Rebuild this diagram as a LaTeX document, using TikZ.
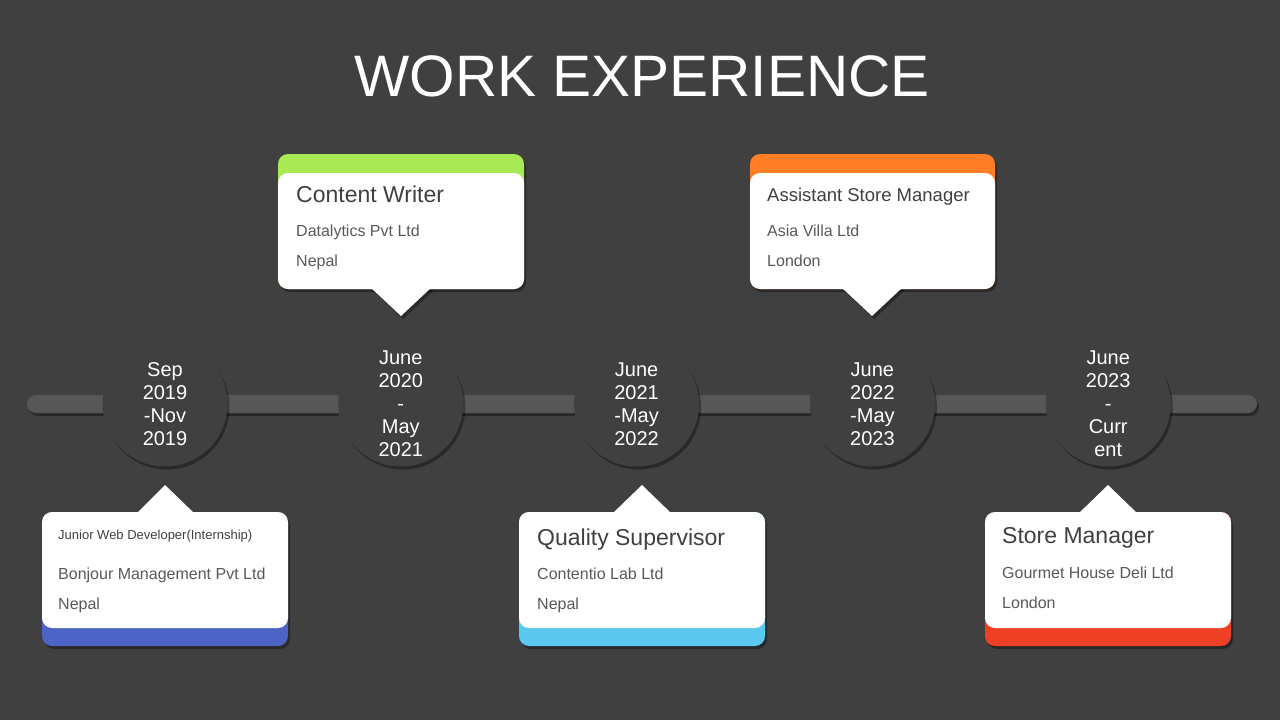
\documentclass[tikz,border=0pt]{standalone}
\usepackage{fontspec}
\setmainfont{Liberation Sans}
\usetikzlibrary{shadows}
\definecolor{bgcol}{HTML}{404040}
\definecolor{barcol}{HTML}{575757}
\definecolor{titlecol}{HTML}{404040}
\definecolor{subcol}{HTML}{595959}
\definecolor{cardgreen}{HTML}{A9EA54}
\definecolor{cardorange}{HTML}{FF7F27}
\definecolor{cardblue}{HTML}{4E63C6}
\definecolor{cardsky}{HTML}{5BC8F0}
\definecolor{cardred}{HTML}{EE4024}
\begin{document}
\begin{tikzpicture}[
	x=1pt,y=-1pt,
	shade/.style={drop shadow={shadow xshift=2pt,shadow yshift=-3pt,fill=black,opacity=0.35}},
	date/.style={circle,fill=bgcol,shade,minimum size=125pt,inner sep=0pt,text=white,align=center,font=\fontsize{20}{23}\selectfont},
	jobtitle/.style={anchor=base west,inner sep=0pt,text=titlecol,font=\fontsize{23}{27}\selectfont},
	jobline/.style={anchor=base west,inner sep=0pt,text=subcol,font=\fontsize{16}{19}\selectfont}
	]
	\def\dist{235.8}
	\useasboundingbox[fill=bgcol] (0,0) rectangle (1280,720);
	\node[anchor=base,text=white,font=\fontsize{58.5}{70}\selectfont] (title) at (642,96) {WORK EXPERIENCE};
	
	% timeline bar
	\fill[barcol,rounded corners=9pt,shade] (27,395) rectangle (1257,413);
	
	\node[date] (d1) at (165,404) {Sep\\2019\\-Nov\\2019};
	\node[date] (d2) at (165+\dist,404) {June\\2020\\-\\May\\2021};
	\node[date] (d3) at (165+2*\dist,404) {June\\2021\\-May\\2022};
	\node[date] (d4) at (165+3*\dist,404) {June\\2022\\-May\\2023};
	\node[date] (d5) at (165+4*\dist,404) {June\\2023\\-\\Curr\\ent};
	
	% top cards
	\fill[cardgreen,rounded corners=10pt,shade] (278,154) rectangle (524,289);
	\fill[white,shade] (370,287) -- (432,287) -- (401,316) -- cycle;
	\fill[white,rounded corners=10pt] (278,173) rectangle (524,289);
	\node[jobtitle] (t2) at (296,202) {Content Writer};
	\node[jobline] (c2) at (296,236) {Datalytics Pvt Ltd};
	\node[jobline] (p2) at (296,266) {Nepal};
	
	\fill[cardorange,rounded corners=10pt,shade] (750,154) rectangle (995,289);
	\fill[white,shade] (841,287) -- (903,287) -- (872,316) -- cycle;
	\fill[white,rounded corners=10pt] (750,173) rectangle (995,289);
	\node[jobtitle,font=\fontsize{18.5}{22}\selectfont] (t4) at (767,201) {Assistant Store Manager};
	\node[jobline] (c4) at (767,236) {Asia Villa Ltd};
	\node[jobline] (p4) at (767,266) {London};
	
	% bottom cards
	\fill[cardblue,rounded corners=10pt,shade] (42,512) rectangle (288,646);
	\fill[white] (136,514) -- (195,514) -- (165,485) -- cycle;
	\fill[white,rounded corners=10pt] (42,512) rectangle (288,628);
	\node[jobtitle,font=\fontsize{13}{15}\selectfont] (t1) at (58,539) {Junior Web Developer(Internship)};
	\node[jobline] (c1) at (58,579) {Bonjour Management Pvt Ltd};
	\node[jobline] (p1) at (58,609) {Nepal};
	
	\fill[cardsky,rounded corners=10pt,shade] (519,512) rectangle (765,646);
	\fill[white] (612,514) -- (672,514) -- (642,485) -- cycle;
	\fill[white,rounded corners=10pt] (519,512) rectangle (765,628);
	\node[jobtitle] (t3) at (537,545) {Quality Supervisor};
	\node[jobline] (c3) at (537,579) {Contentio Lab Ltd};
	\node[jobline] (p3) at (537,609) {Nepal};
	
	\fill[cardred,rounded corners=10pt,shade] (985,512) rectangle (1231,646);
	\fill[white] (1078,514) -- (1138,514) -- (1108,485) -- cycle;
	\fill[white,rounded corners=10pt] (985,512) rectangle (1231,628);
	\node[jobtitle] (t5) at (1002,543) {Store Manager};
	\node[jobline] (c5) at (1002,578) {Gourmet House Deli Ltd};
	\node[jobline] (p5) at (1002,608) {London};
\end{tikzpicture}
\end{document}
